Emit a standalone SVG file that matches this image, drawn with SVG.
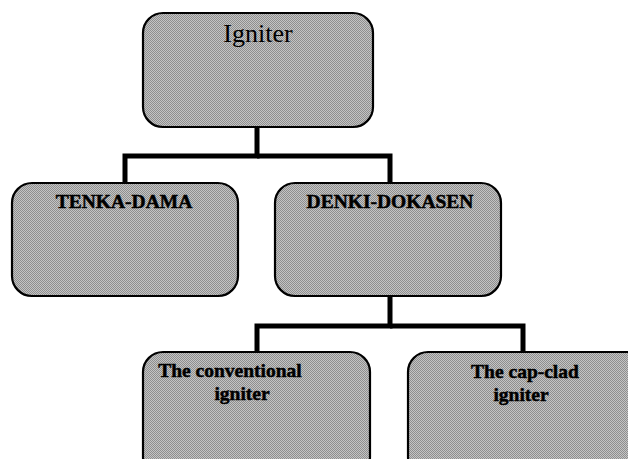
<svg xmlns="http://www.w3.org/2000/svg" width="628" height="459" viewBox="0 0 628 459">
<defs>
<pattern id="dither" width="2" height="2" patternUnits="userSpaceOnUse">
<rect width="2" height="2" fill="#c4c4c4"/>
<rect width="1" height="1" fill="#8e8e8e"/>
<rect x="1" y="1" width="1" height="1" fill="#8e8e8e"/>
</pattern>
</defs>
<style>
.box{fill:url(#dither);stroke:#000;stroke-width:2.2}
.t{font-family:"Liberation Serif","Times New Roman",serif;fill:#000;text-anchor:middle}
.b{font-weight:bold;font-size:19.5px;stroke:#000;stroke-width:0.5}
.conn{fill:none;stroke:#000;stroke-width:5;stroke-linejoin:miter}
</style>
<rect width="628" height="459" fill="#fff"/>
<g id="connectors">
<path class="conn" d="M257,127 V156 H125 V184"/>
<path class="conn" d="M257,156 H390 V184"/>
<path class="conn" d="M390,296 V326 H257 V353"/>
<path class="conn" d="M390,326 H523 V353"/>
</g>
<g id="igniter">
<rect class="box" x="143" y="13" width="230" height="114" rx="20"/>
<text class="t" x="258" y="42" font-size="26">Igniter</text>
</g>
<g id="tenka-dama">
<rect class="box" x="12" y="183" width="226" height="113" rx="20"/>
<text class="t b" x="124" y="208">TENKA-DAMA</text>
</g>
<g id="denki-dokasen">
<rect class="box" x="275" y="183" width="226" height="113" rx="20"/>
<text class="t b" x="390" y="208">DENKI-DOKASEN</text>
</g>
<g id="conventional">
<rect class="box" x="143" y="352" width="227" height="125" rx="20"/>
<text class="t b" x="230" y="377">The conventional</text>
<text class="t b" x="242" y="400">igniter</text>
</g>
<g id="cap-clad">
<rect class="box" x="408" y="352" width="240" height="125" rx="20"/>
<text class="t b" x="525" y="378">The cap-clad</text>
<text class="t b" x="521" y="401">igniter</text>
</g>
</svg>
